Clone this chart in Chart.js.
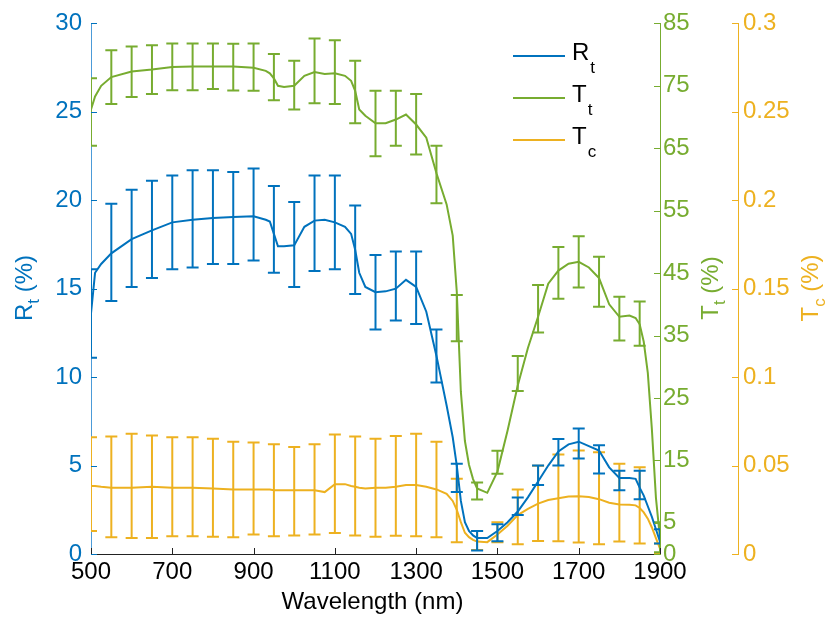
<!DOCTYPE html>
<html>
<head>
<meta charset="utf-8">
<script src="https://cdn.jsdelivr.net/npm/chart.js@4.4.1/dist/chart.umd.min.js"></script>
<style>
  html, body { margin: 0; padding: 0; background: #fff; }
</style>
</head>
<body>
<canvas id="chart" width="829" height="617"></canvas>
<script>
// Spectra (nm and %)
const wavelength = [500, 510, 525, 550, 600, 650, 700, 750, 800, 850, 900, 930, 940, 950, 960, 975,
  1000, 1025, 1050, 1075, 1100, 1125, 1140, 1150, 1160, 1175, 1200, 1225, 1250, 1275, 1300, 1325,
  1350, 1375, 1390, 1400, 1410, 1420, 1430, 1440, 1450, 1475, 1500, 1525, 1550, 1575, 1600, 1625,
  1650, 1675, 1700, 1725, 1750, 1775, 1800, 1825, 1840, 1850, 1860, 1870, 1880, 1890, 1900];

const rtValues = [13.6, 15.9, 16.4, 17.0, 17.8, 18.3, 18.75, 18.9, 19.0, 19.05, 19.1, 18.9, 18.8, 18.1, 17.4, 17.4,
  17.45, 18.5, 18.85, 18.9, 18.75, 18.5, 18.1, 17.2, 15.9, 15.1, 14.8, 14.85, 15.0, 15.5, 15.1, 13.7,
  11.2, 8.4, 6.6, 5.0, 3.0, 1.8, 1.3, 1.05, 0.9, 0.9, 1.3, 1.8, 2.4, 3.2, 4.1, 5.0,
  5.8, 6.2, 6.35, 6.1, 5.85, 4.9, 4.3, 4.3, 4.25, 3.75, 3.3, 2.7, 2.1, 1.4, 0.7];

const ttValues = [71.2, 73.3, 75.0, 76.4, 77.3, 77.6, 78.0, 78.1, 78.1, 78.1, 77.9, 77.4, 77.0, 76.2, 75.0, 74.8,
  75.0, 76.6, 77.2, 76.9, 77.0, 76.6, 75.8, 74.2, 71.2, 70.2, 69.0, 69.0, 69.6, 70.4, 68.8, 66.7,
  61.0, 56.0, 51.0, 42.0, 26.0, 18.1, 14.3, 12.0, 10.5, 9.8, 13.2, 19.8, 27.0, 33.0, 38.0, 43.3,
  45.4, 46.5, 46.8, 45.9, 44.2, 40.0, 38.0, 38.2, 37.8, 36.8, 34.0, 29.0, 20.0, 9.0, 2.5];

const tcValues = [0.0385, 0.0385, 0.038, 0.0375, 0.0375, 0.038, 0.0375, 0.0375, 0.037, 0.0365, 0.0365, 0.0365, 0.0365, 0.036, 0.036, 0.036,
  0.036, 0.036, 0.036, 0.035, 0.0395, 0.0395, 0.0385, 0.038, 0.0375, 0.037, 0.0375, 0.0375, 0.038, 0.039, 0.039, 0.038,
  0.0365, 0.034, 0.030, 0.025, 0.018, 0.012, 0.0095, 0.008, 0.007, 0.0067, 0.011, 0.016, 0.022, 0.0255, 0.0285, 0.0305,
  0.0315, 0.0325, 0.0327, 0.0322, 0.031, 0.029, 0.028, 0.0278, 0.0275, 0.026, 0.0235, 0.020, 0.015, 0.009, 0.003];

// Error bars every 50 nm: centre and half-width
const errWavelength = [500, 550, 600, 650, 700, 750, 800, 850, 900, 950, 1000, 1050, 1100, 1150, 1200,
  1250, 1300, 1350, 1400, 1450, 1500, 1550, 1600, 1650, 1700, 1750, 1800, 1850, 1900];

const rtErrMean = [13.6, 17.05, 17.85, 18.35, 18.75, 18.95, 19.05, 19.0, 19.2, 18.35, 17.5, 18.7, 18.75, 17.2, 14.8,
  15.15, 15.05, 11.2, 4.3, 0.75, 1.2, 2.7, 4.45, 5.75, 6.25, 5.35, 4.15, 3.9, 1.0];
const rtErr = [2.5, 2.75, 2.75, 2.75, 2.65, 2.75, 2.65, 2.6, 2.6, 2.45, 2.4, 2.7, 2.65, 2.5, 2.1,
  1.95, 2.05, 1.5, 0.8, 0.55, 0.48, 0.5, 0.55, 0.75, 0.85, 0.8, 0.55, 0.8, 0.4];

const ttErrMean = [70.8, 76.4, 77.25, 77.6, 78.05, 78.05, 78.15, 78.0, 78.0, 76.4, 75.1, 77.4, 77.2, 74.0, 68.95,
  69.8, 68.85, 60.8, 37.8, 10.1, 14.7, 28.9, 39.3, 45.05, 46.8, 43.6, 37.7, 36.9, 2.7];
const ttErr = [5.4, 4.3, 4.05, 3.9, 3.75, 3.75, 3.65, 3.75, 3.8, 3.7, 3.9, 5.2, 5.1, 5.0, 5.25,
  4.4, 4.85, 4.6, 3.7, 1.35, 1.85, 2.8, 3.8, 4.15, 4.1, 4.0, 3.5, 3.55, 2.4];

const tcErrMean = [0.0395, 0.038, 0.0385, 0.038, 0.038, 0.038, 0.0375, 0.0365, 0.037, 0.036, 0.0355, 0.0365, 0.0397, 0.0385, 0.0375,
  0.0385, 0.039, 0.0365, 0.0246, 0.0076, 0.0123, 0.021, 0.0286, 0.0317, 0.0325, 0.0315, 0.029, 0.0275, 0.003];
const tcErr = [0.0265, 0.0285, 0.0295, 0.029, 0.028, 0.028, 0.0277, 0.027, 0.026, 0.026, 0.025, 0.0255, 0.0278, 0.028, 0.0277,
  0.0282, 0.029, 0.027, 0.018, 0.0054, 0.0056, 0.0155, 0.0213, 0.0245, 0.026, 0.026, 0.022, 0.0215, 0.003];

// Tick values
const xTicks = [500, 700, 900, 1100, 1300, 1500, 1700, 1900];
const rtTicks = [0, 5, 10, 15, 20, 25, 30];
const ttTicks = [0, 5, 15, 25, 35, 45, 55, 65, 75, 85];
const tcTicks = [0, 0.05, 0.1, 0.15, 0.2, 0.25, 0.3];

const FONT = "'Liberation Sans', Arial, sans-serif";
const BLUE = '#0072BD', GREEN = '#77AC30', ORANGE = '#EDB120';
const SIZE = 24;

const series = [
  { name: 'R', sub: 't', color: BLUE, axis: 'yR', values: rtValues, mean: rtErrMean, err: rtErr },
  { name: 'T', sub: 't', color: GREEN, axis: 'yT', values: ttValues, mean: ttErrMean, err: ttErr },
  { name: 'T', sub: 'c', color: ORANGE, axis: 'yC', values: tcValues, mean: tcErrMean, err: tcErr }
];

function toPoints(xs, ys) {
  return xs.map((x, i) => ({ x: x, y: ys[i] }));
}

function fixTicks(list) {
  return scale => { scale.ticks = list.map(v => ({ value: v })); };
}

// text with a subscript part, optionally rotated
function drawSubText(ctx, x, y, parts, size, color, rotate) {
  ctx.save();
  ctx.translate(x, y);
  if (rotate) ctx.rotate(-Math.PI / 2);
  ctx.fillStyle = color;
  ctx.textBaseline = 'alphabetic';
  ctx.textAlign = 'left';
  let total = 0;
  parts.forEach(p => {
    ctx.font = (p.sub ? size * 0.7 : size) + 'px ' + FONT;
    total += ctx.measureText(p.text).width;
  });
  let pos = -total / 2;
  parts.forEach(p => {
    ctx.font = (p.sub ? size * 0.7 : size) + 'px ' + FONT;
    ctx.fillText(p.text, pos, p.sub ? size * 0.3 : 0);
    pos += ctx.measureText(p.text).width;
  });
  ctx.restore();
}

const errorBars = {
  id: 'errorBars',
  afterDatasetDraw(chart, args) {
    const s = series[args.index];
    const xs = chart.scales.x, ys = chart.scales[s.axis];
    const area = chart.chartArea, ctx = chart.ctx;
    ctx.save();
    ctx.beginPath();
    ctx.rect(area.left, area.top - 4, area.right - area.left, area.bottom - area.top + 8);
    ctx.clip();
    ctx.strokeStyle = s.color;
    ctx.lineWidth = 2;
    errWavelength.forEach((w, i) => {
      const px = xs.getPixelForValue(w);
      const top = ys.getPixelForValue(s.mean[i] + s.err[i]);
      const bot = ys.getPixelForValue(s.mean[i] - s.err[i]);
      ctx.beginPath();
      ctx.moveTo(px, top); ctx.lineTo(px, bot);
      ctx.moveTo(px - 6, top); ctx.lineTo(px + 6, top);
      ctx.moveTo(px - 6, bot); ctx.lineTo(px + 6, bot);
      ctx.stroke();
    });
    ctx.restore();
  }
};

const decorations = {
  id: 'decorations',
  afterDraw(chart) {
    const ctx = chart.ctx, area = chart.chartArea;
    const sx = chart.scales.x, sR = chart.scales.yR, sT = chart.scales.yT, sC = chart.scales.yC;
    ctx.save();
    ctx.lineWidth = 1;
    // inward tick marks
    ctx.strokeStyle = '#222';
    xTicks.forEach(v => {
      const p = Math.round(sx.getPixelForValue(v)) + 0.5;
      ctx.beginPath(); ctx.moveTo(p, area.bottom); ctx.lineTo(p, area.bottom - 6); ctx.stroke();
    });
    ctx.strokeStyle = BLUE;
    rtTicks.forEach(v => {
      const p = Math.round(sR.getPixelForValue(v)) + 0.5;
      ctx.beginPath(); ctx.moveTo(area.left, p); ctx.lineTo(area.left + 6, p); ctx.stroke();
    });
    ctx.strokeStyle = GREEN;
    ttTicks.forEach(v => {
      const p = Math.round(sT.getPixelForValue(v)) + 0.5;
      ctx.beginPath(); ctx.moveTo(area.right, p); ctx.lineTo(area.right - 6, p); ctx.stroke();
    });
    ctx.strokeStyle = ORANGE;
    tcTicks.forEach(v => {
      const p = Math.round(sC.getPixelForValue(v)) + 0.5;
      ctx.beginPath(); ctx.moveTo(sC.left, p); ctx.lineTo(sC.left - 6, p); ctx.stroke();
    });
    ctx.restore();

    // axis titles
    drawSubText(ctx, (area.left + area.right) / 2 - 3, 609, [{ text: 'Wavelength (nm)' }], SIZE, '#000', false);
    drawSubText(ctx, 32, 288, [{ text: 'R' }, { text: 't', sub: true }, { text: ' (%)' }], SIZE, BLUE, true);
    drawSubText(ctx, 718, 288, [{ text: 'T' }, { text: 't', sub: true }, { text: ' (%)' }], SIZE, GREEN, true);
    drawSubText(ctx, 818, 288, [{ text: 'T' }, { text: 'c', sub: true }, { text: ' (%)' }], SIZE, ORANGE, true);

    // legend
    series.forEach((s, i) => {
      const y = 56 + i * 42;
      ctx.save();
      ctx.strokeStyle = s.color;
      ctx.lineWidth = 2;
      ctx.beginPath(); ctx.moveTo(513, y); ctx.lineTo(565, y); ctx.stroke();
      ctx.fillStyle = '#000';
      ctx.textBaseline = 'alphabetic';
      ctx.font = SIZE + 'px ' + FONT;
      ctx.fillText(s.name, 572, y + 4);
      const w = ctx.measureText(s.name).width;
      ctx.font = '17px ' + FONT;
      ctx.fillText(s.sub, 572 + w + 1, y + 17);
      ctx.restore();
    });
  }
};

const tickFont = { family: FONT, size: SIZE };

new Chart(document.getElementById('chart'), {
  type: 'line',
  data: {
    datasets: series.map(s => ({
      label: s.name + s.sub,
      data: toPoints(wavelength, s.values),
      yAxisID: s.axis,
      borderColor: s.color,
      backgroundColor: s.color,
      borderWidth: 2,
      pointRadius: 0,
      tension: 0,
      fill: false,
      clip: 0
    }))
  },
  options: {
    responsive: false,
    animation: false,
    devicePixelRatio: 1,
    layout: { padding: { top: 20, left: 0, right: 0, bottom: 0 } },
    plugins: { legend: { display: false }, tooltip: { enabled: false } },
    scales: {
      x: {
        type: 'linear', min: 500, max: 1900,
        afterBuildTicks: fixTicks(xTicks),
        ticks: { color: '#000', font: tickFont, padding: 4, maxRotation: 0, callback: v => String(v) },
        grid: { display: false, drawTicks: false },
        border: { color: '#222', width: 1 },
        afterFit: s => { s.height = 63; }
      },
      yR: {
        position: 'left', min: 0, max: 30,
        afterBuildTicks: fixTicks(rtTicks),
        ticks: { color: BLUE, font: tickFont, padding: 9, callback: v => String(v) },
        grid: { display: false, drawTicks: false },
        border: { color: '#4c9bd8', width: 1 },
        afterFit: s => { s.width = 91; }
      },
      yT: {
        position: 'right', weight: 1, min: 0, max: 85,
        afterBuildTicks: fixTicks(ttTicks),
        ticks: { color: GREEN, font: tickFont, padding: 3, callback: v => String(v) },
        grid: { display: false, drawTicks: false },
        border: { color: GREEN, width: 1 },
        afterFit: s => { s.width = 78; }
      },
      yC: {
        position: 'right', weight: 2, min: 0, max: 0.3,
        afterBuildTicks: fixTicks(tcTicks),
        ticks: { color: ORANGE, font: tickFont, padding: 5, callback: v => String(+v.toFixed(2)) },
        grid: { display: false, drawTicks: false },
        border: { color: ORANGE, width: 1 },
        afterFit: s => { s.width = 91; }
      }
    }
  },
  plugins: [errorBars, decorations]
});
</script>
</body>
</html>
